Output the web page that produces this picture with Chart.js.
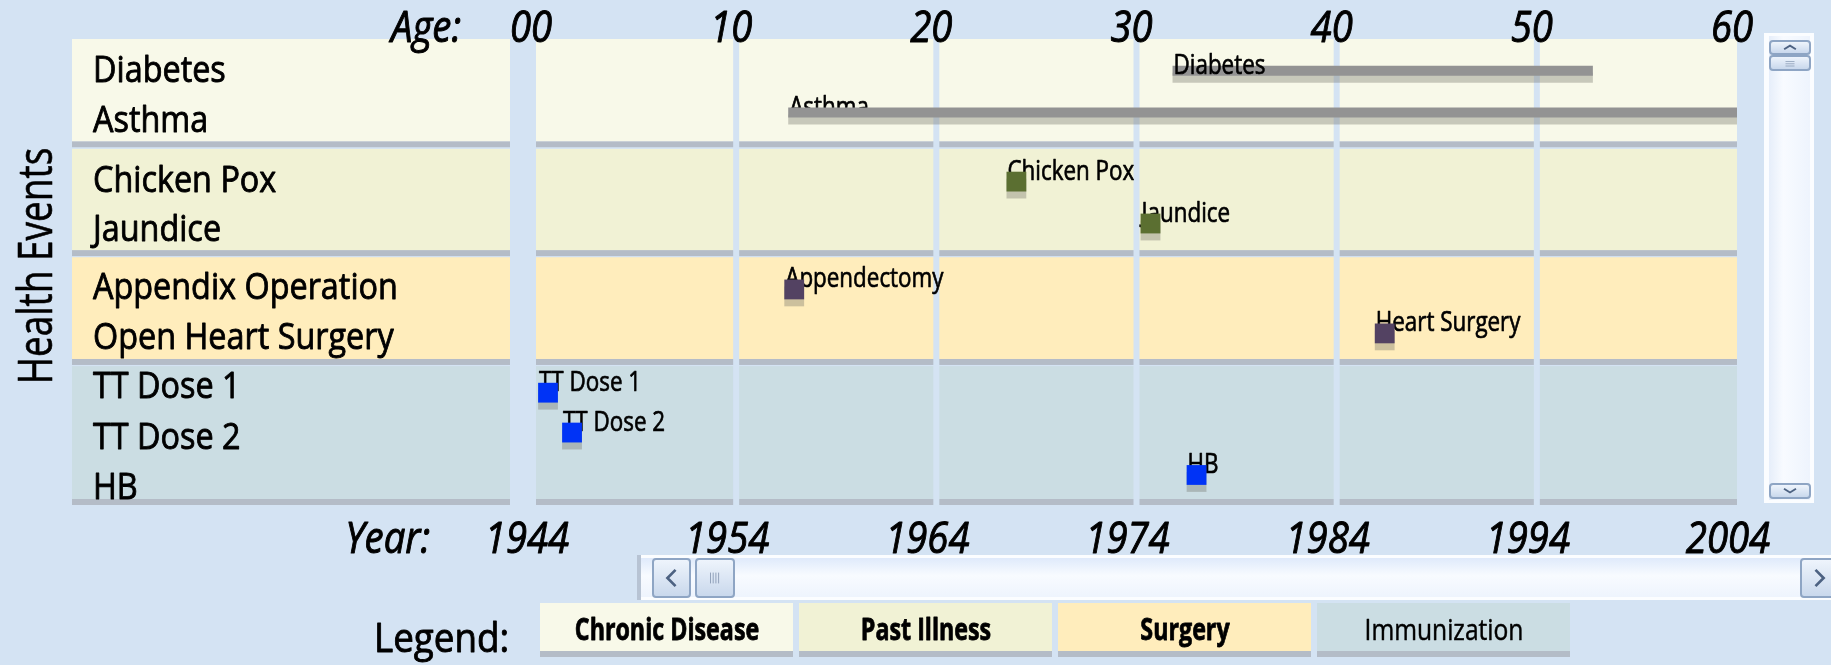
<!DOCTYPE html>
<html>
<head>
<meta charset="utf-8">
<title>Health Events</title>
<script src="https://cdn.jsdelivr.net/npm/chart.js"></script>
<style>
  body { margin: 0; background: #d4e3f3; width: 1831px; height: 665px; overflow: hidden; position: relative; }
  #chart { position: absolute; left: 0; top: 0; }
  .vbar { position: absolute; left: 1764px; top: 33px; width: 50px; height: 470px; background: #fbfdff; }
  .vbar .track { position: absolute; left: 5px; right: 4px; top: 3px; bottom: 3px; background: linear-gradient(to right, #e6eefa, #f8fbff 35%, #eef4fd); }
  .hbar { position: absolute; left: 637px; top: 555px; width: 1194px; height: 45px; background: #fbfdff; border-left: 4px solid #b7c3d3; }
  .hbar .track { position: absolute; left: 0; right: 0; top: 3px; bottom: 3px; background: linear-gradient(#dfeafb, #f8fbff 45%, #eef4fd); }
  .btn { position: absolute; box-sizing: border-box; border: 2px solid #8ea5c4; border-radius: 4px; background: linear-gradient(#eef4fc, #c9d8ec); }
  .btn svg { position: absolute; left: 0; top: 0; width: 100%; height: 100%; }
</style>
</head>
<body>
<canvas id="chart" width="1831" height="665"></canvas>

<div class="vbar">
  <div class="track"></div>
  <div class="btn" style="left:5px;top:7px;width:42px;height:15px;"><svg viewBox="0 0 42 15"><polyline points="13,10 21,5 29,10" fill="none" stroke="#4d6282" stroke-width="2.5"/></svg></div>
  <div class="btn" style="left:5px;top:22px;width:42px;height:16px;"><svg viewBox="0 0 42 16"><path d="M15 6H27M15 9H27M15 12H27" stroke="#8a9bb4" stroke-width="1"/></svg></div>
  <div class="btn" style="left:5px;top:450px;width:42px;height:16px;"><svg viewBox="0 0 42 16"><polyline points="13,5 21,10 29,5" fill="none" stroke="#4d6282" stroke-width="2.5"/></svg></div>
</div>

<div class="hbar">
  <div class="track"></div>
  <div class="btn" style="left:11px;top:3px;width:39px;height:40px;"><svg viewBox="0 0 39 40"><polyline points="24,11 15,20 24,29" fill="none" stroke="#4d6282" stroke-width="3"/></svg></div>
  <div class="btn" style="left:54px;top:3px;width:40px;height:40px;"><svg viewBox="0 0 40 40"><path d="M15 14V26M18 14V26M21 14V26M24 14V26" stroke="#8a9bb4" stroke-width="1"/></svg></div>
  <div class="btn" style="left:1159px;top:3px;width:40px;height:40px;"><svg viewBox="0 0 40 40"><polyline points="15,11 24,20 15,29" fill="none" stroke="#4d6282" stroke-width="3"/></svg></div>
</div>

<script>
const FONT = "'Open Sans', 'Noto Sans', sans-serif";

// axis ticks: age on top, calendar year at the bottom
const ageTicks = [0, 10, 20, 30, 40, 50, 60];
const ageTickLabels = ['00', '10', '20', '30', '40', '50', '60'];
const yearTickLabels = ['1944', '1954', '1964', '1974', '1984', '1994', '2004'];

// rows of the left panel (y in row units, 0 = top)
const rowLabels = ['Diabetes', 'Asthma', 'Chicken Pox', 'Jaundice', 'Appendix Operation', 'Open Heart Surgery', 'TT Dose 1', 'TT Dose 2', 'HB'];
const rowLabelPos = [0.58, 1.56, 2.73, 3.69, 4.84, 5.82, 6.76, 7.76, 8.74];

// event groups (bands)
const groupNames = ['Chronic Disease', 'Past Illness', 'Surgery', 'Immunization'];
const groupFrom = [0, 2.15, 4.27, 6.40];
const groupTo = [2.0, 4.13, 6.26, 9.0];
const groupColors = ['#f8f9e9', '#f1f2d5', '#ffedbc', '#cbdde3'];

// chronic disease: onset age -> end age
const chronicNames = ['Diabetes', 'Asthma'];
const chronicStart = [31.8, 12.6];
const chronicEnd = [52.8, 60];
const chronicRow = [0.62, 1.44];

// single events: age at event
const illnessNames = ['Chicken Pox', 'Jaundice'];
const illnessAge = [24.0, 30.7];
const illnessRow = [2.79, 3.61];

const surgeryNames = ['Appendectomy', 'Heart Surgery'];
const surgeryAge = [12.9, 42.4];
const surgeryRow = [4.90, 5.76];

const immunizationNames = ['TT Dose 1', 'TT Dose 2', 'HB'];
const immunizationAge = [0.6, 1.8, 33.0];
const immunizationRow = [6.92, 7.70, 8.53];

// text is squeezed sideways to get the narrow face of the original, and stroked a bit to thicken it
function txt(ctx, s, x, y, font, sx, align, weight) {
    ctx.save();
    ctx.font = font;
    ctx.fillStyle = '#000';
    ctx.strokeStyle = '#000';
    ctx.lineWidth = weight === undefined ? 0.7 : weight;
    ctx.lineJoin = 'round';
    ctx.textAlign = align || 'left';
    ctx.textBaseline = 'alphabetic';
    ctx.translate(x, y);
    ctx.scale(sx, 1);
    ctx.fillText(s, 0, 0);
    if (ctx.lineWidth > 0) ctx.strokeText(s, 0, 0);
    ctx.restore();
}

function shadowBox(ctx, x1, y1, x2, y2, color) {
    ctx.fillStyle = '#b4bcc7';
    ctx.fillRect(x1, y2, x2 - x1, 6);
    ctx.fillStyle = color;
    ctx.fillRect(x1, y1, x2 - x1, y2 - y1);
}

const datasets = [];
chronicNames.forEach((n, i) => datasets.push({
    label: n,
    data: [{ x: chronicStart[i], y: chronicRow[i] }, { x: chronicEnd[i], y: chronicRow[i] }],
    names: [n],
    bar: true,
    showLine: true,
    borderColor: '#939393',
    borderWidth: 10,
    borderCapStyle: 'butt',
    pointRadius: 0
}));
const pointSet = (label, names, ages, rows, color) => ({
    label,
    names,
    data: ages.map((a, i) => ({ x: a, y: rows[i] })),
    pointStyle: 'rect',
    pointRadius: 14,
    pointBorderWidth: 0,
    backgroundColor: color,
    borderColor: color
});
datasets.push(pointSet('Past Illness', illnessNames, illnessAge, illnessRow, '#5b6f31'));
datasets.push(pointSet('Surgery', surgeryNames, surgeryAge, surgeryRow, '#534262'));
datasets.push(pointSet('Immunization', immunizationNames, immunizationAge, immunizationRow, '#0033f6'));

// labels for events: Diabetes label sits over its bar, others go under the marks
const labelsOnTop = ['Diabetes'];
function drawEventLabels(chart, top) {
    const ctx = chart.ctx;
    chart.data.datasets.forEach((ds, di) => {
        const meta = chart.getDatasetMeta(di);
        ds.names.forEach((n, i) => {
            if (labelsOnTop.includes(n) !== top) return;
            const el = meta.data[i];
            if (ds.bar) txt(ctx, n, el.x + 1, el.y + 3, `28px ${FONT}`, 0.8);
            else txt(ctx, n, el.x - 9, el.y - 2, `28px ${FONT}`, 0.8);
        });
    });
}

const timelinePlugin = {
    id: 'timeline',
    beforeDatasetsDraw(chart) {
        const ctx = chart.ctx, xs = chart.scales.x, ys = chart.scales.y;
        // left label panel
        groupNames.forEach((g, gi) => {
            shadowBox(ctx, 72, ys.getPixelForValue(groupFrom[gi]), 510, ys.getPixelForValue(groupTo[gi]), groupColors[gi]);
        });
        // decade columns
        groupNames.forEach((g, gi) => {
            const y1 = ys.getPixelForValue(groupFrom[gi]), y2 = ys.getPixelForValue(groupTo[gi]);
            for (let k = 0; k < ageTicks.length - 1; k++) {
                const x1 = xs.getPixelForValue(ageTicks[k]) + (k > 0 ? 3 : 0);
                const x2 = xs.getPixelForValue(ageTicks[k + 1]) - (k < ageTicks.length - 2 ? 3 : 0);
                shadowBox(ctx, x1, y1, x2, y2, groupColors[gi]);
            }
        });
        // row labels
        rowLabels.forEach((r, i) => txt(ctx, r, 93, ys.getPixelForValue(rowLabelPos[i]) + 13, `37px ${FONT}`, 0.875, 'left', 0.9));
        // age axis (top) and year axis (bottom)
        txt(ctx, 'Age:', 461, 42, `italic 44px ${FONT}`, 0.87, 'right', 1);
        txt(ctx, 'Year:', 430, 553, `italic 44px ${FONT}`, 0.87, 'right', 1);
        ageTicks.forEach((a, i) => {
            const px = xs.getPixelForValue(a);
            txt(ctx, ageTickLabels[i], px - 5, 42, `italic 44px ${FONT}`, 0.87, 'center', 1);
            txt(ctx, yearTickLabels[i], px - 9, 553, `italic 44px ${FONT}`, 0.87, 'center', 1);
        });
        // y title
        ctx.save();
        ctx.translate(52, 266);
        ctx.rotate(-Math.PI / 2);
        txt(ctx, 'Health Events', 0, 0, `48px ${FONT}`, 0.77, 'center', 0.6);
        ctx.restore();
        // legend
        txt(ctx, 'Legend:', 374, 652, `40px ${FONT}`, 0.92, 'left', 0.9);
        groupNames.forEach((g, gi) => {
            const x1 = 540 + gi * 259;
            shadowBox(ctx, x1, 603, x1 + 253, 651, groupColors[gi]);
            const bold = gi < 3;
            txt(ctx, g, x1 + 127, 640, `${bold ? 'bold 31px' : '30px'} ${FONT}`, bold ? 0.75 : 0.82, 'center', bold ? 0.8 : 0.5);
        });
        drawEventLabels(chart, false);
    },
    beforeDatasetDraw(chart) {
        const ctx = chart.ctx;
        ctx.save();
        ctx.shadowColor = 'rgba(110,110,100,0.35)';
        ctx.shadowOffsetY = 7;
        ctx.shadowBlur = 0;
    },
    afterDatasetDraw(chart) {
        chart.ctx.restore();
    },
    afterDatasetsDraw(chart) {
        drawEventLabels(chart, true);
    }
};

new Chart(document.getElementById('chart').getContext('2d'), {
    type: 'scatter',
    data: { datasets },
    options: {
        responsive: false,
        animation: false,
        events: [],
        clip: false,
        layout: { padding: { left: 536, right: 94, top: 39, bottom: 166 } },
        scales: {
            x: { type: 'linear', min: 0, max: 60, display: false },
            y: { type: 'linear', min: 0, max: 9, reverse: true, display: false }
        },
        plugins: { legend: { display: false }, tooltip: { enabled: false } }
    },
    plugins: [timelinePlugin]
});
</script>
</body>
</html>
